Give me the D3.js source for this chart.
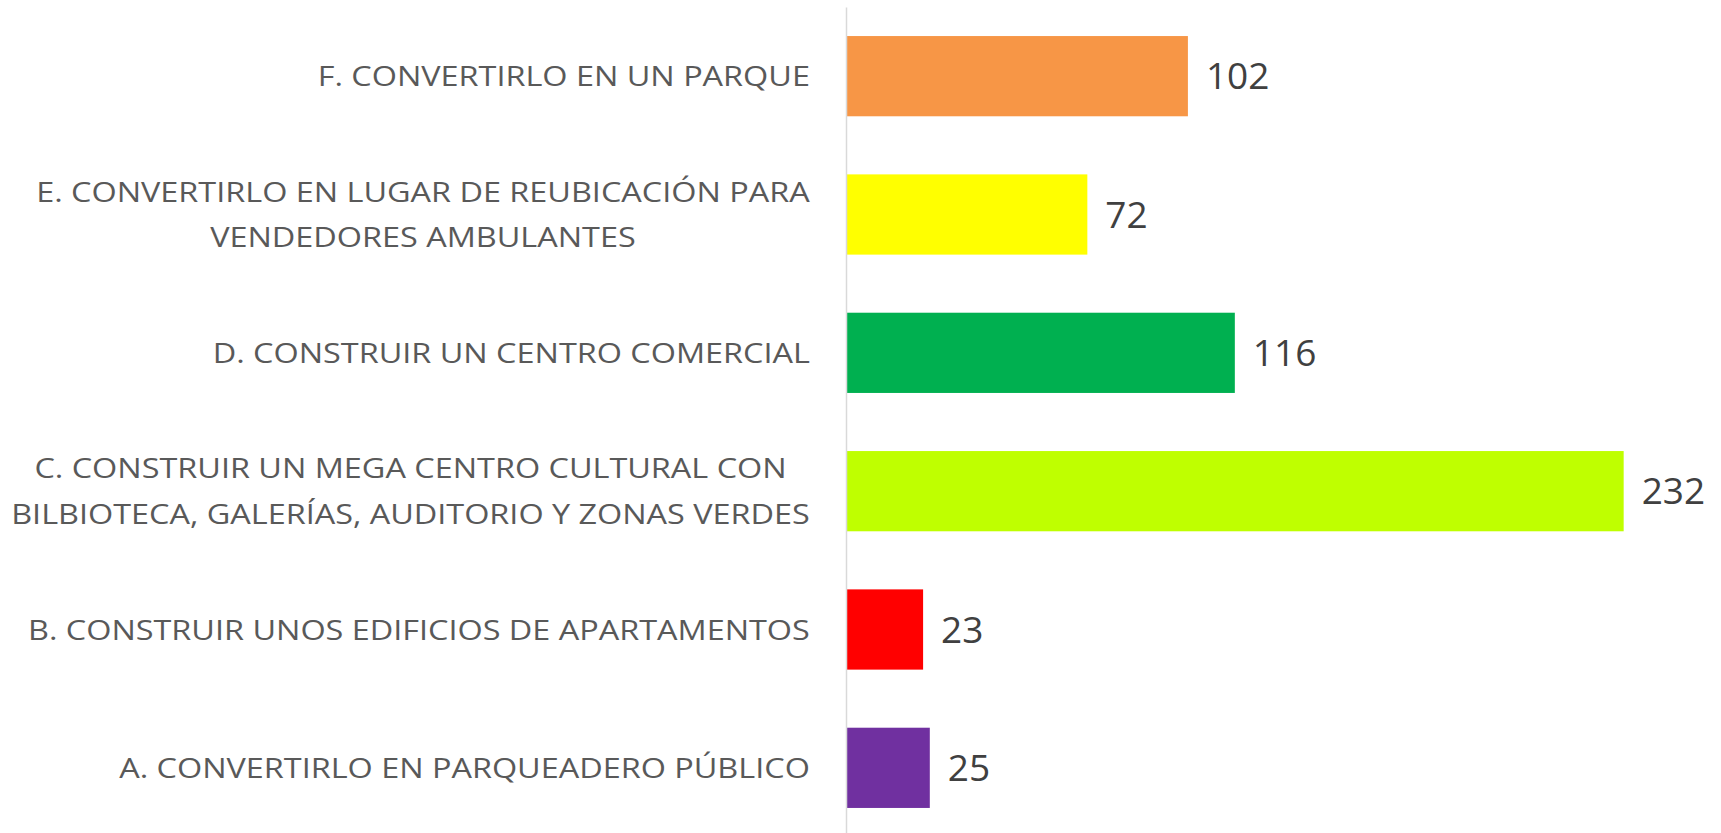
<!DOCTYPE html>
<html>
<head>
<meta charset="utf-8">
<script src="https://cdn.jsdelivr.net/npm/d3@7"></script>
<style>
  html, body { margin: 0; padding: 0; background: #fff; }
  svg { display: block; }
</style>
</head>
<body>
<svg width="1721" height="833"></svg>
<script>
// Categories top to bottom, with their wrapped lines as Excel shows them
var categories = [
  'F. CONVERTIRLO EN UN PARQUE',
  'E. CONVERTIRLO EN LUGAR DE REUBICACIÓN PARA VENDEDORES AMBULANTES',
  'D. CONSTRUIR UN CENTRO COMERCIAL',
  'C. CONSTRUIR UN MEGA CENTRO CULTURAL CON BILBIOTECA, GALERÍAS, AUDITORIO Y ZONAS VERDES',
  'B. CONSTRUIR UNOS EDIFICIOS DE APARTAMENTOS',
  'A. CONVERTIRLO EN PARQUEADERO PÚBLICO'
];
var labelLines = [
  ['F. CONVERTIRLO EN UN PARQUE'],
  ['E. CONVERTIRLO EN LUGAR DE REUBICACIÓN PARA', 'VENDEDORES AMBULANTES'],
  ['D. CONSTRUIR UN CENTRO COMERCIAL'],
  ['C. CONSTRUIR UN MEGA CENTRO CULTURAL CON', 'BILBIOTECA, GALERÍAS, AUDITORIO Y ZONAS VERDES'],
  ['B. CONSTRUIR UNOS EDIFICIOS DE APARTAMENTOS'],
  ['A. CONVERTIRLO EN PARQUEADERO PÚBLICO']
];
var values = [102, 72, 116, 232, 23, 25];
var colors = ['#F79646', '#FFFF00', '#00B050', '#BFFF00', '#FF0000', '#7030A0'];

var svg = d3.select('svg');

// Scales
var y = d3.scaleBand().domain(categories).range([7, 837]).paddingInner(0.42).paddingOuter(0.21);
var x = d3.scaleLinear().domain([0, 250]).range([846, 1684]);

// Bars
svg.selectAll('rect.bar')
  .data(values).enter()
  .append('rect')
  .attr('class', 'bar')
  .attr('x', x(0))
  .attr('y', (d, i) => y(categories[i]))
  .attr('width', d => x(d) - x(0))
  .attr('height', y.bandwidth())
  .attr('fill', (d, i) => colors[i]);

// Vertical axis line only
var axis = svg.append('g')
  .attr('transform', 'translate(' + x(0) + ',0)')
  .call(d3.axisLeft(y).tickSize(0).tickSizeOuter(0).tickFormat(''));
axis.select('.domain').attr('stroke', '#d9d9d9').attr('stroke-width', 1.5);
axis.selectAll('.tick').remove();

// Value labels
svg.selectAll('text.value')
  .data(values).enter()
  .append('text')
  .attr('class', 'value')
  .attr('x', d => x(d) + 18)
  .attr('y', (d, i) => y(categories[i]) + y.bandwidth() / 2 + 13)
  .attr('font-family', 'Open Sans, sans-serif')
  .attr('font-size', 37)
  .attr('fill', '#404040')
  .text(d => d);

// Category labels: centered lines, block right-aligned next to the axis
var fontSize = 28, lineGap = 46, capHalf = 10;
var groups = svg.selectAll('g.cat')
  .data(labelLines).enter()
  .append('g')
  .attr('class', 'cat');

groups.each(function(lines) {
  var g = d3.select(this);
  lines.forEach((t, j) => {
    g.append('text')
      .attr('text-anchor', 'middle')
      .attr('x', 0)
      .attr('y', (j - (lines.length - 1) / 2) * lineGap + capHalf)
      .attr('font-family', 'Open Sans, sans-serif')
      .attr('font-size', fontSize)
      .attr('fill', '#595959')
      .text(t);
  });
});

// squeeze the wider font to Calibri-like width
var widest = 0;
groups.each(function() { widest = Math.max(widest, this.getBBox().width); });
var sx = 799 / widest;
groups.attr('transform', function(d, i) {
  var w = this.getBBox().width * sx;
  var cy = y(categories[i]) + y.bandwidth() / 2;
  return 'translate(' + (810 - w / 2) + ',' + cy + ') scale(' + sx + ',1)';
});
</script>
</body>
</html>
